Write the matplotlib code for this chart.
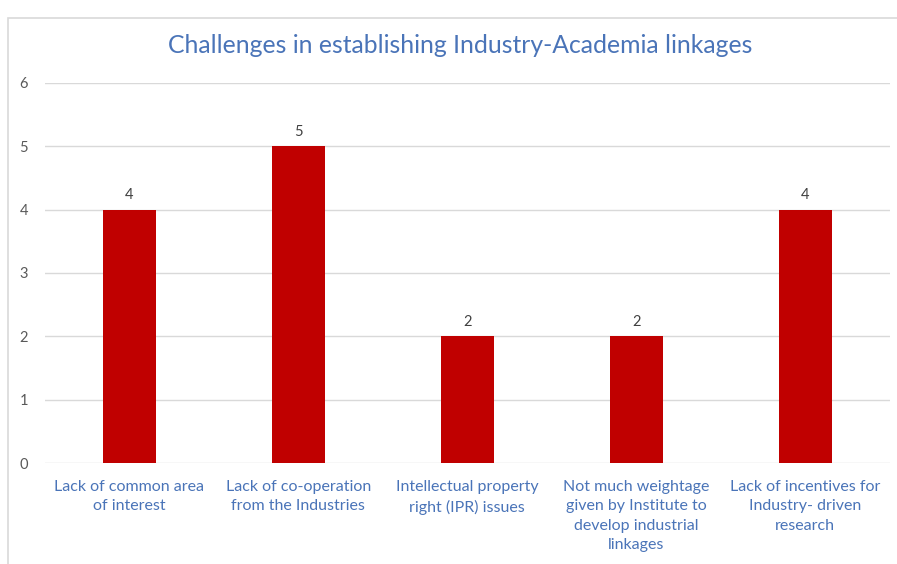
import matplotlib.pyplot as plt
from matplotlib.patches import Rectangle

# Survey responses per challenge
categories = [
    "Lack of common area\nof interest",
    "Lack of co-operation\nfrom the Industries",
    "Intellectual property\nright (IPR) issues",
    "Not much weightage\ngiven by Institute to\ndevelop industrial\nlinkages",
    "Lack of incentives for\nIndustry- driven\nresearch",
]
counts = [4, 5, 2, 2, 4]
y_ticks = [0, 1, 2, 3, 4, 5, 6]

plt.rcParams['font.family'] = ['Lato', 'DejaVu Sans']

fig = plt.figure(figsize=(8.97, 5.64), dpi=100)
ax = fig.add_axes([0.050, 0.179, 0.942, 0.674])

x = range(len(categories))
ax.bar(x, counts, width=0.31, color='#C00000', zorder=3)

for xi, v in zip(x, counts):
    ax.text(xi, v + 0.12, str(v), ha='center', va='bottom',
            fontsize=10.5, color='#404040')

ax.set_xlim(-0.5, len(categories) - 0.5)
ax.set_ylim(0, 6)
ax.set_yticks(y_ticks)
ax.set_yticklabels([str(t) for t in y_ticks], fontsize=10.5, color='#595959')
ax.set_xticks(list(x))
ax.set_xticklabels(categories, fontsize=11.5, color='#4A74B8', linespacing=1.5)
ax.tick_params(axis='both', length=0)
ax.tick_params(axis='y', pad=12)
ax.tick_params(axis='x', pad=12)

ax.grid(axis='y', color='#D9D9D9', linewidth=1, zorder=0)
for s in ax.spines.values():
    s.set_visible(False)

fig.text(0.513, 0.92, "Challenges in establishing Industry-Academia linkages",
         ha='center', va='center', fontsize=17.8, color='#4A74B8')

# outer chart frame
fig.patches.append(Rectangle((8 / 897, -0.01), 0.995, 0.99 - 12 / 564 + 0.01,
                             transform=fig.transFigure, fill=False,
                             edgecolor='#D9D9D9', linewidth=1.2))

fig.savefig('out.png', dpi=100)
